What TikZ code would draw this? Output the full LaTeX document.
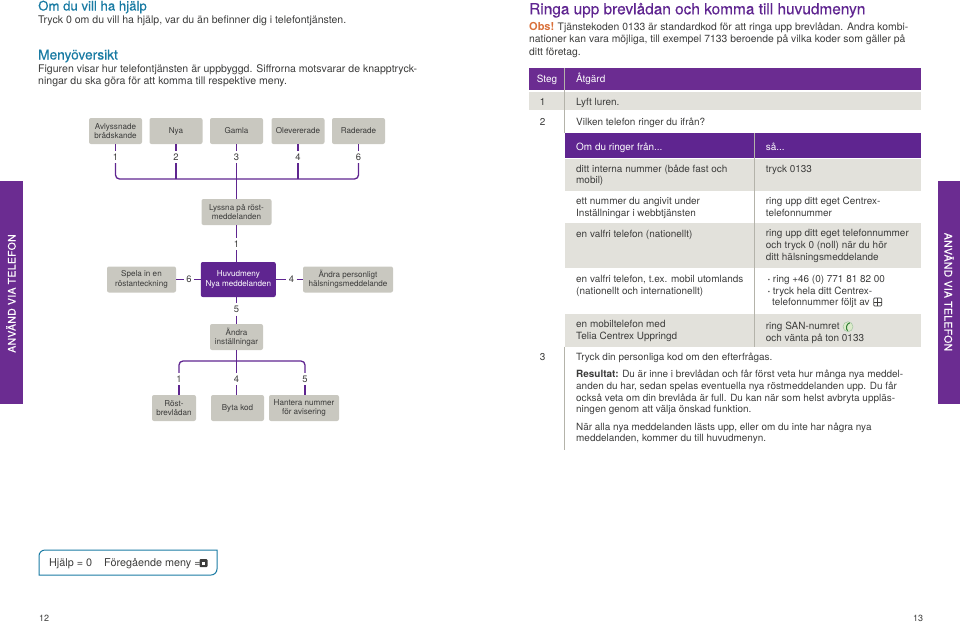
\documentclass[tikz,border=0pt]{standalone}
\usepackage{fontspec}
\usepackage{xcolor}
\setmainfont{TeX Gyre Heros}
\newfontfamily\headfont[FakeBold=0.25]{TeX Gyre Heros}
\newfontfamily\tabfont[LetterSpace=3.5,FakeBold=0.3]{TeX Gyre Heros}

\definecolor{ink}{HTML}{3C3C3B}
\definecolor{tabpurple}{HTML}{6B2C91}
\definecolor{mainpurple}{HTML}{5F2590}
\definecolor{boxgray}{HTML}{C9C8C0}
\definecolor{rowgray}{HTML}{E2E1DB}
\definecolor{rulegray}{HTML}{B4B3AA}
\definecolor{helpblue}{HTML}{1A7BA3}
\definecolor{obsorange}{HTML}{D9703A}
\definecolor{phonegreen}{HTML}{DCEBCB}
\definecolor{phonedark}{HTML}{2E7D32}

\tikzset{
    menubox/.style={fill=boxgray, rounded corners=2pt, align=center, inner sep=0pt, minimum height=26pt, text=ink, font=\fontsize{8.1}{9.4}\selectfont},
    digit/.style={inner sep=0pt, minimum width=10pt, minimum height=12pt, text=ink, font=\fontsize{9.4}{10}\selectfont},
    link/.style={draw=mainpurple, line width=1.3pt},
    body/.style={anchor=base west, align=left, inner sep=0pt, text=ink, font=\fontsize{10.55}{12.8}\selectfont},
    cell/.style={body, font=\fontsize{9.95}{11.6}\selectfont},
    head/.style={anchor=base west, inner sep=0pt, text=helpblue, font=\fontsize{13.2}{15}\headfont},
    hdr/.style={cell, text=white},
    sidetab/.style={inner sep=0pt, text=white, font=\fontsize{10.4}{11}\tabfont}
}

\begin{document}
\begin{tikzpicture}[x=1pt, y=-1pt]
    \useasboundingbox (0,0) rectangle (960,622);

    % side tabs
    \fill[tabpurple] (0,181) rectangle (22.5,404);
    \fill[tabpurple] (937.7,181) rectangle (960,404);
    \node[sidetab, rotate=90] (tableft) at (11,293.5) {ANVÄND VIA TELEFON};
    \node[sidetab, rotate=-90] (tabright) at (949,292) {ANVÄND VIA TELEFON};

    % left page text
    \node[head] (hjalphead) at (38,10.5) {Om du vill ha hjälp};
    \node[body] (hjalptext) at (38,23.3) {Tryck 0 om du vill ha hjälp, var du än befinner dig i telefontjänsten.};
    \node[head, font=\fontsize{13.7}{15}\headfont] (menyhead) at (38,59.5) {Menyöversikt};
    \node[body] (menytext) at (38,84.8) {Figuren visar hur telefontjänsten är uppbyggd. Siffrorna motsvarar de knapptryck-\\ningar du ska göra för att komma till respektive meny.};

    % top row
    \node[menubox, minimum width=53pt] (avlyssnade) at (115.5,131) {Avlyssnade\\brådskande};
    \node[menubox, minimum width=53pt] (nya) at (176,131) {Nya};
    \node[menubox, minimum width=53pt] (gamla) at (236.5,131) {Gamla};
    \node[menubox, minimum width=53pt] (olevererade) at (298,131) {Olevererade};
    \node[menubox, minimum width=53pt] (raderade) at (358.5,131) {Raderade};
    \node[digit] (top1) at (115.5,157) {1};
    \node[digit] (top2) at (176,157) {2};
    \node[digit] (top3) at (236.5,157) {3};
    \node[digit] (top4) at (298,157) {4};
    \node[digit] (top6) at (358.5,157) {6};
    \coordinate (topbus) at (236.5,179);

    % centre column
    \node[menubox, minimum width=70pt] (lyssna) at (236.5,212) {Lyssna på röst-\\meddelanden};
    \node[digit] (mid1) at (236.5,244) {1};
    \node[menubox, fill=mainpurple, text=white, minimum width=75pt, minimum height=35pt] (huvudmeny) at (238.3,279.5) {Huvudmeny\\Nya meddelanden};
    \node[digit] (mid6) at (189,279.5) {6};
    \node[digit] (mid4) at (291.5,279.5) {4};
    \node[menubox, minimum width=69pt] (spela) at (141.5,279.5) {Spela in en\\röstanteckning};
    \node[menubox, minimum width=90pt] (personligt) at (348,279.5) {Ändra personligt\\hälsningsmeddelande};
    \node[digit] (mid5) at (236.5,309.5) {5};
    \node[menubox, minimum width=53pt] (installningar) at (236.5,337) {Ändra\\inställningar};

    % bottom row
    \coordinate (setbus) at (236.5,361);
    \node[digit] (low1) at (179,379) {1};
    \node[digit] (low4) at (236.5,379) {4};
    \node[digit] (low5) at (305,379) {5};
    \node[menubox, minimum width=44pt] (rostbrev) at (174,408) {Röst-\\brevlådan};
    \node[menubox, minimum width=53pt] (bytakod) at (237.5,408) {Byta kod};
    \node[menubox, minimum width=70pt] (hantera) at (304,408) {Hantera nummer\\för avisering};

    \draw[link] (avlyssnade) -- (top1);
    \draw[link] (nya) -- (top2);
    \draw[link] (gamla) -- (top3);
    \draw[link] (olevererade) -- (top4);
    \draw[link] (raderade) -- (top6);
    \draw[link, rounded corners=4pt] (top1) |- (topbus) -| (top6);
    \draw[link] (top2) -- (top2 |- topbus);
    \draw[link] (top4) -- (top4 |- topbus);
    \draw[link] (top3) -- (lyssna);
    \draw[link] (lyssna) -- (mid1);
    \draw[link] (mid1) -- (mid1 |- huvudmeny.north);
    \draw[link] (spela) -- (mid6);
    \draw[link] (mid6) -- (huvudmeny);
    \draw[link] (huvudmeny) -- (mid4);
    \draw[link] (mid4) -- (personligt);
    \draw[link] (mid5 |- huvudmeny.south) -- (mid5);
    \draw[link] (mid5) -- (installningar);
    \draw[link] (installningar) -- (low4);
    \draw[link, rounded corners=4pt] (low1) |- (setbus) -| (low5);
    \draw[link] (low1) -- (low1 |- rostbrev.north);
    \draw[link] (low4) -- (low4 |- bytakod.north);
    \draw[link] (low5) -- (low5 |- hantera.north);

    % footer
    \draw[helpblue, line width=1pt] (39,575) [rounded corners=6pt] -- (39,550) [sharp corners] -- (217,550) [rounded corners=6pt] -- (217,575) [sharp corners] -- cycle;
    \node[body, font=\fontsize{10.8}{12}\selectfont] (hjalpkey) at (49,566.8) {Hjälp = 0};
    \node[body, font=\fontsize{10.8}{12}\selectfont] (foregaende) at (104,566.8) {Föregående meny =};
    \fill[ink, rounded corners=1pt] (199.5,559) rectangle (207.5,567);
    \fill[white] (201.8,561.5) rectangle (205.2,564.5);
    \node[body, font=\fontsize{9}{10}\selectfont] (page12) at (39,621) {12};
    \node[body, font=\fontsize{9}{10}\selectfont] (page13) at (913,621) {13};

    % right page text
    \node[head, text=mainpurple, font=\fontsize{15.4}{17}\headfont] (title) at (529,14.3) {Ringa upp brevlådan och komma till huvudmenyn};
    \node[body, text=obsorange, font=\fontsize{11}{12}\bfseries] (obs) at (529,30) {Obs!};
    \node[body, font=\fontsize{10.35}{12.8}\selectfont] (obstext) at (557.5,30) {Tjänstekoden 0133 är standardkod för att ringa upp brevlådan. Andra kombi-};
    \node[body, font=\fontsize{10.35}{12.8}\selectfont] (obstext2) at (529,55.6) {nationer kan vara möjliga, till exempel 7133 beroende på vilka koder som gäller på\\ditt företag.};

    % table backgrounds
    \fill[tabpurple] (529,68) rectangle (920.7,90);
    \fill[rowgray] (529,92) rectangle (920.7,110);
    \fill[mainpurple] (564.7,132.7) rectangle (920.7,158.3);
    \fill[rowgray] (564.7,159) rectangle (920.7,190.5);
    \fill[rowgray] (564.7,223.3) rectangle (920.7,268);
    \fill[rowgray] (564.7,314) rectangle (920.7,346.7);
    \draw[rulegray, line width=0.8pt] (564.3,68) -- (564.3,132.7);
    \draw[rulegray, line width=0.8pt] (564.3,346.7) -- (564.3,450);
    \draw[rulegray, line width=0.8pt] (754.3,132.7) -- (754.3,346.7);

    % table text
    \node[hdr, anchor=base] (steg) at (547,82.5) {Steg};
    \node[hdr] (atgard) at (576,82.5) {Åtgärd};
    \node[cell, anchor=base] (step1) at (542.7,105.7) {1};
    \node[cell] (lyft) at (576,105.7) {Lyft luren.};
    \node[cell, anchor=base] (step2) at (542.7,125) {2};
    \node[cell] (vilken) at (576,125) {Vilken telefon ringer du ifrån?};
    \node[hdr] (omdu) at (576,150) {Om du ringer från...};
    \node[hdr] (sa) at (765.7,150) {så...};
    \node[cell] (interna) at (576,183.7) {ditt interna nummer (både fast och\\mobil)};
    \node[cell] (tryck) at (765.7,172) {tryck 0133};
    \node[cell] (angivit) at (576,216.2) {ett nummer du angivit under\\Inställningar i webbtjänsten};
    \node[cell] (ringupp) at (765.7,216.2) {ring upp ditt eget Centrex-\\telefonnummer};
    \node[cell] (valfri) at (576,237) {en valfri telefon (nationellt)};
    \node[cell] (ringnoll) at (765.7,260) {ring upp ditt eget telefonnummer\\och tryck 0 (noll) när du hör\\ditt hälsningsmeddelande};
    \node[cell] (utomlands) at (576,294.2) {en valfri telefon, t.ex. mobil utomlands\\(nationellt och internationellt)};
    \node[cell] (ringplus) at (767.5,305.6) {{\bfseries ·}\hspace{2.5pt}ring +46 (0) 771 81 82 00\\{\bfseries ·}\hspace{2.5pt}tryck hela ditt Centrex-\\\hspace{4.5pt}telefonnummer följt av};
    \draw[ink, line width=0.7pt, rounded corners=1pt] (873.7,298) rectangle (881.7,306);
    \draw[ink, line width=0.6pt] (877.7,298) -- (877.7,306) (873.7,302) -- (881.7,302);
    \node[cell] (mobil) at (576,339.5) {en mobiltelefon med\\Telia Centrex Uppringd};
    \node[cell] (ringsan) at (765.7,341.2) {ring SAN-numret\\och vänta på ton 0133};
    \filldraw[fill=phonegreen, draw=phonedark!50, line width=0.4pt] (848,326.7) circle (5pt);
    \draw[phonedark, line width=1pt] (849.8,322.8) .. controls (846,324) and (845.5,328.5) .. (847.6,330.8);
    \node[cell, anchor=base] (step3) at (542.7,360.5) {3};
    \node[cell] (personlig) at (576,360.5) {Tryck din personliga kod om den efterfrågas.};
    \node[cell] (resultat) at (576,412.6) {{\bfseries Resultat:} Du är inne i brevlådan och får först veta hur många nya meddel-\\anden du har, sedan spelas eventuella nya röstmeddelanden upp. Du får\\också veta om din brevlåda är full. Du kan när som helst avbryta uppläs-\\ningen genom att välja önskad funktion.};
    \node[cell] (nar) at (576,441.7) {När alla nya meddelanden lästs upp, eller om du inte har några nya\\meddelanden, kommer du till huvudmenyn.};
\end{tikzpicture}
\end{document}
